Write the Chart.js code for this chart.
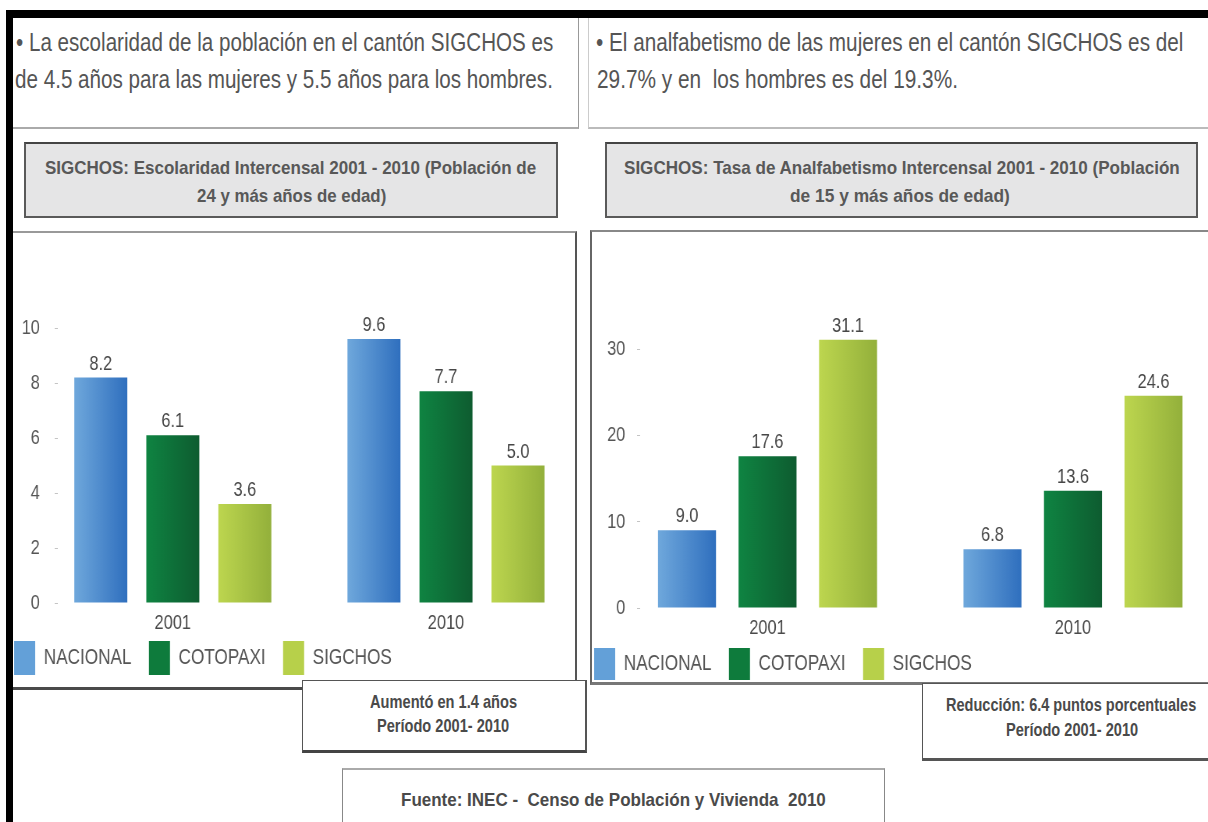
<!DOCTYPE html>
<html>
<head>
<meta charset="utf-8">
<script src="https://cdn.jsdelivr.net/npm/chart.js@4"></script>
<style>
  body { margin: 0; background: #fff; width: 1208px; height: 822px; overflow: hidden; position: relative; font-family: "Liberation Sans", Arial, sans-serif; }
  .box { position: absolute; box-sizing: border-box; background: #fff; }
  .fit { position: absolute; white-space: pre; transform-origin: left center; color: #555; }
  .txt { font-size: 26px; line-height: 30px; height: 30px; }
  .ttl { font-size: 19px; font-weight: bold; line-height: 22px; height: 22px; color: #585858; }
  .note { font-size: 19px; font-weight: bold; line-height: 22px; height: 22px; color: #4a4a4a; }
  canvas { position: absolute; transform-origin: 0 0; }
  .bar { position: absolute; background: #000; z-index: 20; }
</style>
</head>
<body>

<div class="box" style="left:13px;top:18px;width:566px;height:111px;border-right:1px solid #999;border-bottom:2px solid #aaa;"></div>
<div class="box" style="left:588px;top:18px;width:620px;height:111px;border-left:1px solid #ccc;border-bottom:2px solid #bbb;"></div>

<div class="box" style="left:24px;top:142px;width:534px;height:76px;background:#e5e5e6;border:2px solid #5a5a5a;border-top-color:#444;"></div>
<div class="box" style="left:605px;top:142px;width:593px;height:76px;background:#e5e5e6;border:2px solid #5a5a5a;border-top-color:#444;"></div>

<div class="box" style="left:13px;top:231px;width:564px;height:459px;border-top:2px solid #999;border-right:2px solid #555;border-bottom:3px solid #4a4a4a;"></div>
<div class="box" style="left:590px;top:230px;width:618px;height:455px;border-top:2px solid #888;border-left:2px solid #666;border-bottom:3px solid #777;"></div>

<canvas id="leftChart" width="745" height="442" style="left:11px;top:250px;transform:scaleX(0.78);"></canvas>
<canvas id="rightChart" width="791" height="442" style="left:591px;top:250px;transform:scaleX(0.78);"></canvas>

<div class="box" style="left:302px;top:680px;width:285px;height:73px;border:1px solid #555;border-right-width:2px;border-bottom:3px solid #444;z-index:5;"></div>
<div class="box" style="left:922px;top:683px;width:290px;height:78px;border:1px solid #555;border-bottom:3px solid #555;z-index:5;"></div>
<div class="box" style="left:342px;top:768px;width:543px;height:70px;border:1px solid #888;border-top:2px solid #aaa;z-index:5;"></div>

<div class="fit txt" data-w="537" style="left:16px;top:27px;">• La escolaridad de la población en el cantón SIGCHOS es</div>
<div class="fit txt" data-w="538" style="left:15px;top:64px;">de 4.5 años para las mujeres y 5.5 años para los hombres.</div>
<div class="fit txt" data-w="587" style="left:596px;top:27px;">• El analfabetismo de las mujeres en el cantón SIGCHOS es del</div>
<div class="fit txt" data-w="361" style="left:597px;top:64px;">29.7% y en  los hombres es del 19.3%.</div>

<div class="fit ttl" data-w="491" style="left:45px;top:157px;">SIGCHOS: Escolaridad Intercensal 2001 - 2010 (Población de</div>
<div class="fit ttl" data-w="189" style="left:197px;top:185px;">24 y más años de edad)</div>
<div class="fit ttl" data-w="556" style="left:624px;top:157px;">SIGCHOS: Tasa de Analfabetismo Intercensal 2001 - 2010 (Población</div>
<div class="fit ttl" data-w="220" style="left:790px;top:185px;">de 15 y más años de edad)</div>

<div class="fit note" data-w="147" style="left:370px;top:691px;z-index:6;">Aumentó en 1.4 años</div>
<div class="fit note" data-w="132" style="left:377px;top:715px;z-index:6;">Período 2001- 2010</div>
<div class="fit note" data-w="250" style="left:946px;top:694px;z-index:6;">Reducción: 6.4 puntos porcentuales</div>
<div class="fit note" data-w="132" style="left:1006px;top:719px;z-index:6;">Período 2001- 2010</div>
<div class="fit note" data-w="425" style="left:401px;top:789px;z-index:6;font-weight:600;">Fuente: INEC -  Censo de Población y Vivienda  2010</div>

<div class="bar" style="left:6px;top:10px;width:1202px;height:8px;"></div>
<div class="bar" style="left:6px;top:10px;width:7px;height:812px;"></div>

<script>
const years = ["2001", "2010"];
const seriesNames = ["NACIONAL", "COTOPAXI", "SIGCHOS"];

// Escolaridad (años)
const escNacional = [8.2, 9.6];
const escCotopaxi = [6.1, 7.7];
const escSigchos = [3.6, 5.0];
const escTicks = [0, 2, 4, 6, 8, 10];

// Tasa de analfabetismo (%)
const analfNacional = [9.0, 6.8];
const analfCotopaxi = [17.6, 13.6];
const analfSigchos = [31.1, 24.6];
const analfTicks = [0, 10, 20, 30];

const seriesColors = [
  ["#6fa8dc", "#2f6fbe"],
  ["#0f8442", "#0e5c30"],
  ["#bdd64f", "#93b03b"],
];
const legendColors = ["#63a0d8", "#0e7b3c", "#b7d04a"];
const FONT = "'Liberation Sans', Arial, sans-serif";

document.querySelectorAll(".fit").forEach((el) => {
  el.style.transform = `scaleX(${+el.dataset.w / el.offsetWidth})`;
});

function barFill(colors) {
  return (c) => {
    const el = c.chart.getDatasetMeta(c.datasetIndex).data[c.dataIndex];
    if (!el || el.x == null || !el.width) return colors[0];
    const g = c.chart.ctx.createLinearGradient(el.x - el.width / 2, 0, el.x + el.width / 2, 0);
    g.addColorStop(0, colors[0]);
    g.addColorStop(1, colors[1]);
    return g;
  };
}

const valueLabels = {
  id: "valueLabels",
  afterDatasetsDraw(chart) {
    const ctx = chart.ctx;
    ctx.save();
    ctx.font = `21px ${FONT}`;
    ctx.fillStyle = "#474747";
    ctx.textAlign = "center";
    ctx.textBaseline = "alphabetic";
    chart.data.datasets.forEach((ds, i) => {
      chart.getDatasetMeta(i).data.forEach((bar, j) => {
        ctx.fillText(ds.data[j].y.toFixed(1), bar.x, bar.y - 8);
      });
    });
    ctx.restore();
  },
};

function createChart(id, series, o) {
  const ctx = document.getElementById(id).getContext("2d");
  const chart = new Chart(ctx, {
    type: "bar",
    data: {
      datasets: series.map((values, i) => ({
        label: seriesNames[i],
        data: values.map((v, k) => ({ x: k, y: v })),
        backgroundColor: barFill(seriesColors[i]),
        borderWidth: 0,
        categoryPercentage: 0.791,
        barPercentage: o.barPct,
      })),
    },
    options: {
      responsive: false,
      animation: false,
      devicePixelRatio: 1,
      layout: { padding: { top: o.padTop, bottom: o.padBottom, left: 0, right: 0 } },
      plugins: {
        tooltip: { enabled: false },
        legend: {
          position: "bottom",
          align: "start",
          labels: {
            boxWidth: 27,
            boxHeight: o.boxHeight,
            padding: 4,
            color: "#555",
            font: { family: FONT, size: 22 },
            generateLabels: (chart) =>
              Chart.defaults.plugins.legend.labels.generateLabels(chart).map((item, i) => ({
                ...item,
                text: item.text + "   ",
                fillStyle: legendColors[i],
                strokeStyle: legendColors[i],
                lineWidth: 0,
              })),
          },
        },
      },
      scales: {
        x: {
          type: "linear",
          offset: false,
          min: o.xMin,
          max: o.xMax,
          afterBuildTicks: (s) => { s.ticks = years.map((_, k) => ({ value: k })); },
          afterFit: (s) => { s.height = o.xHeight; },
          grid: { display: false, drawTicks: false, offset: false },
          border: { display: false },
          ticks: {
            padding: 8,
            color: "#4a4a4a",
            font: { family: FONT, size: 21 },
            callback: (v) => years[v],
          },
        },
        y: {
          min: 0,
          max: o.yMax,
          afterBuildTicks: (s) => { s.ticks = o.ticks.map((v) => ({ value: v })); },
          afterFit: (s) => { s.width = o.yWidth; },
          grid: { drawOnChartArea: false, tickLength: 4, color: "#c4c4c4" },
          border: { display: false },
          ticks: {
            padding: o.tickPad,
            color: "#555",
            font: { family: FONT, size: 21 },
          },
        },
      },
    },
    plugins: [valueLabels],
  });
  chart.update();
  return chart;
}

createChart("leftChart", [escNacional, escCotopaxi, escSigchos], {
  barPct: 0.736, padTop: 78, padBottom: 7, boxHeight: 34,
  xMin: -0.421, xMax: 1.535, xHeight: 34,
  yMax: 10, ticks: escTicks, yWidth: 60, tickPad: 19,
});

createChart("rightChart", [analfNacional, analfCotopaxi, analfSigchos], {
  barPct: 0.72, padTop: 56, padBottom: 2, boxHeight: 32,
  xMin: -0.417, xMax: 1.442, xHeight: 36,
  yMax: 35, ticks: analfTicks, yWidth: 63, tickPad: 15,
});
</script>
</body>
</html>
